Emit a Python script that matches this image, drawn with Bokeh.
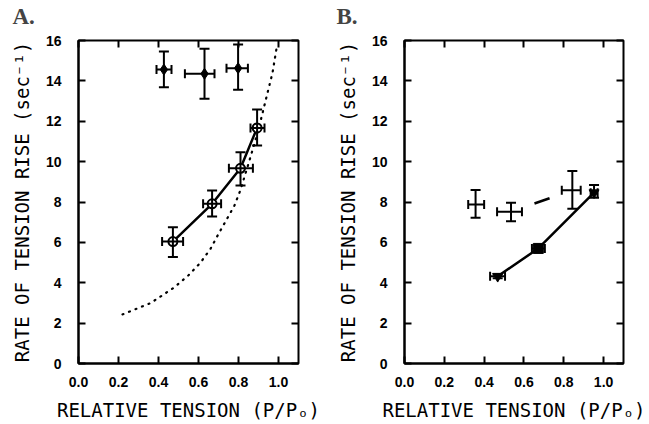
from bokeh.plotting import figure
from bokeh.models import (ColumnDataSource, Whisker, TeeHead, Range1d, FixedTicker,
                          LinearAxis, PrintfTickFormatter, CustomLabelingPolicy)
from bokeh.layouts import row
from bokeh.embed import file_html
from bokeh.resources import INLINE

# ---------------- data ----------------
# Panel A: filled symbols (top)
a_top_x = [0.427, 0.630, 0.798]
a_top_y = [14.56, 14.35, 14.63]
a_top_xlo = [0.390, 0.532, 0.740]
a_top_xhi = [0.465, 0.680, 0.847]
a_top_ylo = [13.69, 13.11, 13.56]
a_top_yhi = [15.45, 15.59, 15.80]

# Panel A: open circles joined by a line
a_open_x = [0.472, 0.668, 0.810, 0.893]
a_open_y = [6.04, 7.91, 9.67, 11.67]
a_open_xlo = [0.418, 0.623, 0.752, 0.860]
a_open_xhi = [0.523, 0.713, 0.872, 0.930]
a_open_ylo = [5.27, 7.28, 8.82, 10.80]
a_open_yhi = [6.75, 8.57, 10.47, 12.58]

# Panel A: dotted curve
a_curve_x = [0.22, 0.36, 0.48, 0.55, 0.61, 0.66, 0.70, 0.74, 0.78, 0.81,
             0.85, 0.88, 0.91, 0.94, 0.97, 0.99]
a_curve_y = [2.43, 2.99, 3.78, 4.37, 5.00, 5.68, 6.42, 7.12, 7.83, 8.60,
             9.90, 10.90, 12.00, 13.20, 14.40, 15.60]

# Panel B: crosses joined by a dashed line
b_dash_x = [0.357, 0.535, 0.843]
b_dash_y = [7.88, 7.52, 8.58]
b_dash_xlo = [0.320, 0.465, 0.790]
b_dash_xhi = [0.400, 0.590, 0.885]
b_dash_ylo = [7.22, 7.05, 7.67]
b_dash_yhi = [8.59, 7.96, 9.54]

# Panel B: filled symbols joined by a solid line
b_solid_x = [0.468, 0.672, 0.952]
b_solid_y = [4.32, 5.70, 8.46]
b_solid_xlo = [0.430, 0.640, 0.935]
b_solid_xhi = [0.505, 0.705, 0.970]
b_solid_ylo = [4.22, 5.55, 8.21]
b_solid_yhi = [4.42, 5.85, 8.84]

x_ticks = [0.0, 0.2, 0.4, 0.6, 0.8, 1.0]
y_ticks = [0, 2, 4, 6, 8, 10, 12, 14, 16]
x_label = "RELATIVE TENSION (P/Pₒ)"
y_label = "RATE OF TENSION RISE (sec⁻¹)"

TICK_FONT = "Liberation Sans"
LABEL_FONT = "DejaVu Sans Mono"

HIDE_LABELS = """
for (let i = 0; i < indices.size; i++) { indices.unset(i) }
return indices
"""


def src(x, y, xlo, xhi, ylo, yhi):
    return ColumnDataSource(dict(x=x, y=y, xlo=xlo, xhi=xhi, ylo=ylo, yhi=yhi))


def errorbars(p, s):
    p.add_layout(Whisker(source=s, base="x", lower="ylo", upper="yhi", dimension="height",
                         line_color="black", line_width=2,
                         lower_head=TeeHead(size=10, line_width=2, line_color="black"),
                         upper_head=TeeHead(size=10, line_width=2, line_color="black"),
                         level="glyph"))
    p.add_layout(Whisker(source=s, base="y", lower="xlo", upper="xhi", dimension="width",
                         line_color="black", line_width=2,
                         lower_head=TeeHead(size=9, line_width=2, line_color="black"),
                         upper_head=TeeHead(size=9, line_width=2, line_color="black"),
                         level="glyph"))


def make_panel(letter, width, left_border, right_border, title_x):
    p = figure(width=width, height=424, output_backend="svg", toolbar_location=None,
               x_range=Range1d(0, 1.1), y_range=Range1d(0, 16),
               min_border_left=left_border, min_border_right=right_border,
               min_border_top=40, min_border_bottom=61,
               title=letter)
    p.title.text_font = "Liberation Serif"
    p.title.text_font_style = "bold"
    p.title.text_font_size = "23px"
    p.title.align = "left"
    p.title.offset = title_x - left_border
    p.title.standoff = 2
    p.grid.visible = False
    p.outline_line_color = "black"
    p.outline_line_width = 2
    p.background_fill_color = "white"
    p.border_fill_color = "white"

    for ax in p.xaxis:
        ax.ticker = FixedTicker(ticks=x_ticks)
        ax.formatter = PrintfTickFormatter(format="%.1f")
        ax.axis_label = x_label
        ax.axis_label_standoff = 9
        ax.major_label_standoff = 13
    for ax in p.yaxis:
        ax.ticker = FixedTicker(ticks=y_ticks)
        ax.formatter = PrintfTickFormatter(format="%d")
        ax.axis_label = y_label
        ax.axis_label_standoff = 10
        ax.major_label_standoff = 17
    for ax in list(p.xaxis) + list(p.yaxis):
        ax.axis_line_color = "black"
        ax.axis_line_width = 2
        ax.major_tick_in = 7
        ax.major_tick_out = 0
        ax.major_tick_line_width = 2
        ax.minor_tick_line_color = None
        ax.major_label_text_font = TICK_FONT
        ax.major_label_text_font_style = "bold"
        ax.major_label_text_font_size = "14px"
        ax.axis_label_text_font = LABEL_FONT
        ax.axis_label_text_font_style = "normal"
        ax.axis_label_text_font_size = "19px"
        ax.axis_label_text_color = "black"
        ax.major_label_text_color = "black"

    top = LinearAxis(ticker=FixedTicker(ticks=x_ticks),
                     major_label_policy=CustomLabelingPolicy(code=HIDE_LABELS),
                     major_tick_in=7, major_tick_out=0, major_tick_line_width=2,
                     minor_tick_line_color=None, axis_line_color=None,
                     major_label_standoff=0)
    right = LinearAxis(ticker=FixedTicker(ticks=y_ticks),
                       major_label_policy=CustomLabelingPolicy(code=HIDE_LABELS),
                       major_tick_in=7, major_tick_out=0, major_tick_line_width=2,
                       minor_tick_line_color=None, axis_line_color=None,
                       major_label_standoff=0)
    p.add_layout(top, "above")
    p.add_layout(right, "right")
    return p


# ---------------- panel A ----------------
pa = make_panel("A.", 333, 78, 35, 12)
pa.line(a_curve_x, a_curve_y, line_color="black", line_width=2.2,
        line_dash="1 6", line_cap="round")
s_top = src(a_top_x, a_top_y, a_top_xlo, a_top_xhi, a_top_ylo, a_top_yhi)
errorbars(pa, s_top)
pa.scatter("x", "y", source=s_top, marker="diamond", size=11,
           fill_color="black", line_color="black")
s_open = src(a_open_x, a_open_y, a_open_xlo, a_open_xhi, a_open_ylo, a_open_yhi)
pa.line("x", "y", source=s_open, line_color="black", line_width=2.5)
errorbars(pa, s_open)
pa.scatter("x", "y", source=s_open, marker="circle", size=9,
           fill_color="white", line_color="black", line_width=2)

# ---------------- panel B ----------------
pb = make_panel("B.", 316, 70, 26, 2)
s_dash = src(b_dash_x, b_dash_y, b_dash_xlo, b_dash_xhi, b_dash_ylo, b_dash_yhi)
pb.line("x", "y", source=s_dash, line_color="black", line_width=2.5,
        line_dash="16 200", line_dash_offset=155)
errorbars(pb, s_dash)
s_solid = src(b_solid_x, b_solid_y, b_solid_xlo, b_solid_xhi, b_solid_ylo, b_solid_yhi)
pb.line("x", "y", source=s_solid, line_color="black", line_width=2.5)
errorbars(pb, s_solid)
pb.scatter(x=[b_solid_x[0], b_solid_x[2]], y=[b_solid_y[0], b_solid_y[2]],
           marker="inverted_triangle", size=10, fill_color="black", line_color="black")
pb.scatter(x=[b_solid_x[1]], y=[b_solid_y[1]], marker="square", size=10,
           fill_color="black", line_color="black")

layout = row(pa, pb)
open("out.html", "w").write(file_html(layout, INLINE))
